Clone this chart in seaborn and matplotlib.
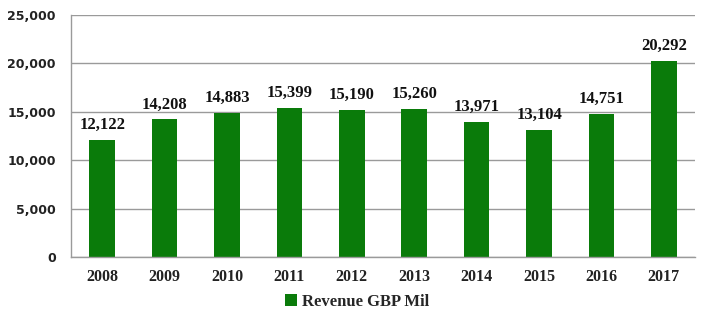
import matplotlib
matplotlib.use("Agg")
import matplotlib.pyplot as plt
import seaborn as sns
import pandas as pd
import numpy as np
from matplotlib.ticker import FuncFormatter, FixedLocator

years = ["2008", "2009", "2010", "2011", "2012", "2013", "2014", "2015", "2016", "2017"]
revenue = [12122, 14208, 14883, 15399, 15190, 15260, 13971, 13104, 14751, 20292]
series_name = "Revenue GBP Mil"

sns.set_style("white")
df = pd.DataFrame({"year": years, "revenue": revenue, "series": series_name})

fig = plt.figure(figsize=(7.1, 3.26), dpi=100)
ax = fig.add_axes([0.1, 0.212, 0.879, 0.742])
green = "#0A7B0A"
sns.barplot(data=df, x="year", y="revenue", hue="series", palette=[green],
            width=0.41, ax=ax, saturation=1, legend=True, linewidth=0)

ax.set_ylim(0, 25000)
ax.set_xlim(-0.5, len(years) - 0.5)
ax.set_yticks(np.arange(0, 25001, 5000))
ax.yaxis.set_major_formatter(FuncFormatter(lambda v, p: f"{int(v):,}"))
ax.grid(axis="y", color="#9a9a9a", linewidth=1)
ax.set_axisbelow(True)
for s in ["top", "right"]:
    ax.spines[s].set_visible(False)
for s in ["left", "bottom"]:
    ax.spines[s].set_color("#9a9a9a")
    ax.spines[s].set_linewidth(1)
ax.set_xlabel("")
ax.set_ylabel("")
ax.tick_params(axis="y", length=0, pad=11)
ax.tick_params(axis="x", which="major", length=0, pad=9)
ax.xaxis.set_minor_locator(FixedLocator(np.arange(-0.5, len(years), 1.0)))
ax.tick_params(axis="x", which="minor", length=5, color="#9a9a9a", direction="out")
for lab in ax.get_yticklabels():
    lab.set_fontfamily("DejaVu Sans")
    lab.set_fontweight("bold")
    lab.set_fontsize(9)
    lab.set_color("#222222")
for lab in ax.get_xticklabels():
    lab.set_fontfamily("Liberation Serif")
    lab.set_fontweight("bold")
    lab.set_fontsize(11.5)
    lab.set_color("#222222")

for c in ax.containers:
    ax.bar_label(c, labels=[f"{v:,}" for v in revenue], padding=5,
                 fontfamily="Liberation Serif", fontweight="bold", fontsize=12, color="#111111")

leg = ax.legend(loc="center", bbox_to_anchor=(0.458, -0.185), frameon=False,
                prop={"family": "Liberation Serif", "weight": "bold", "size": 12},
                handlelength=0.7, handleheight=0.7, handletextpad=0.3)

fig.savefig("out.png", dpi=100)
